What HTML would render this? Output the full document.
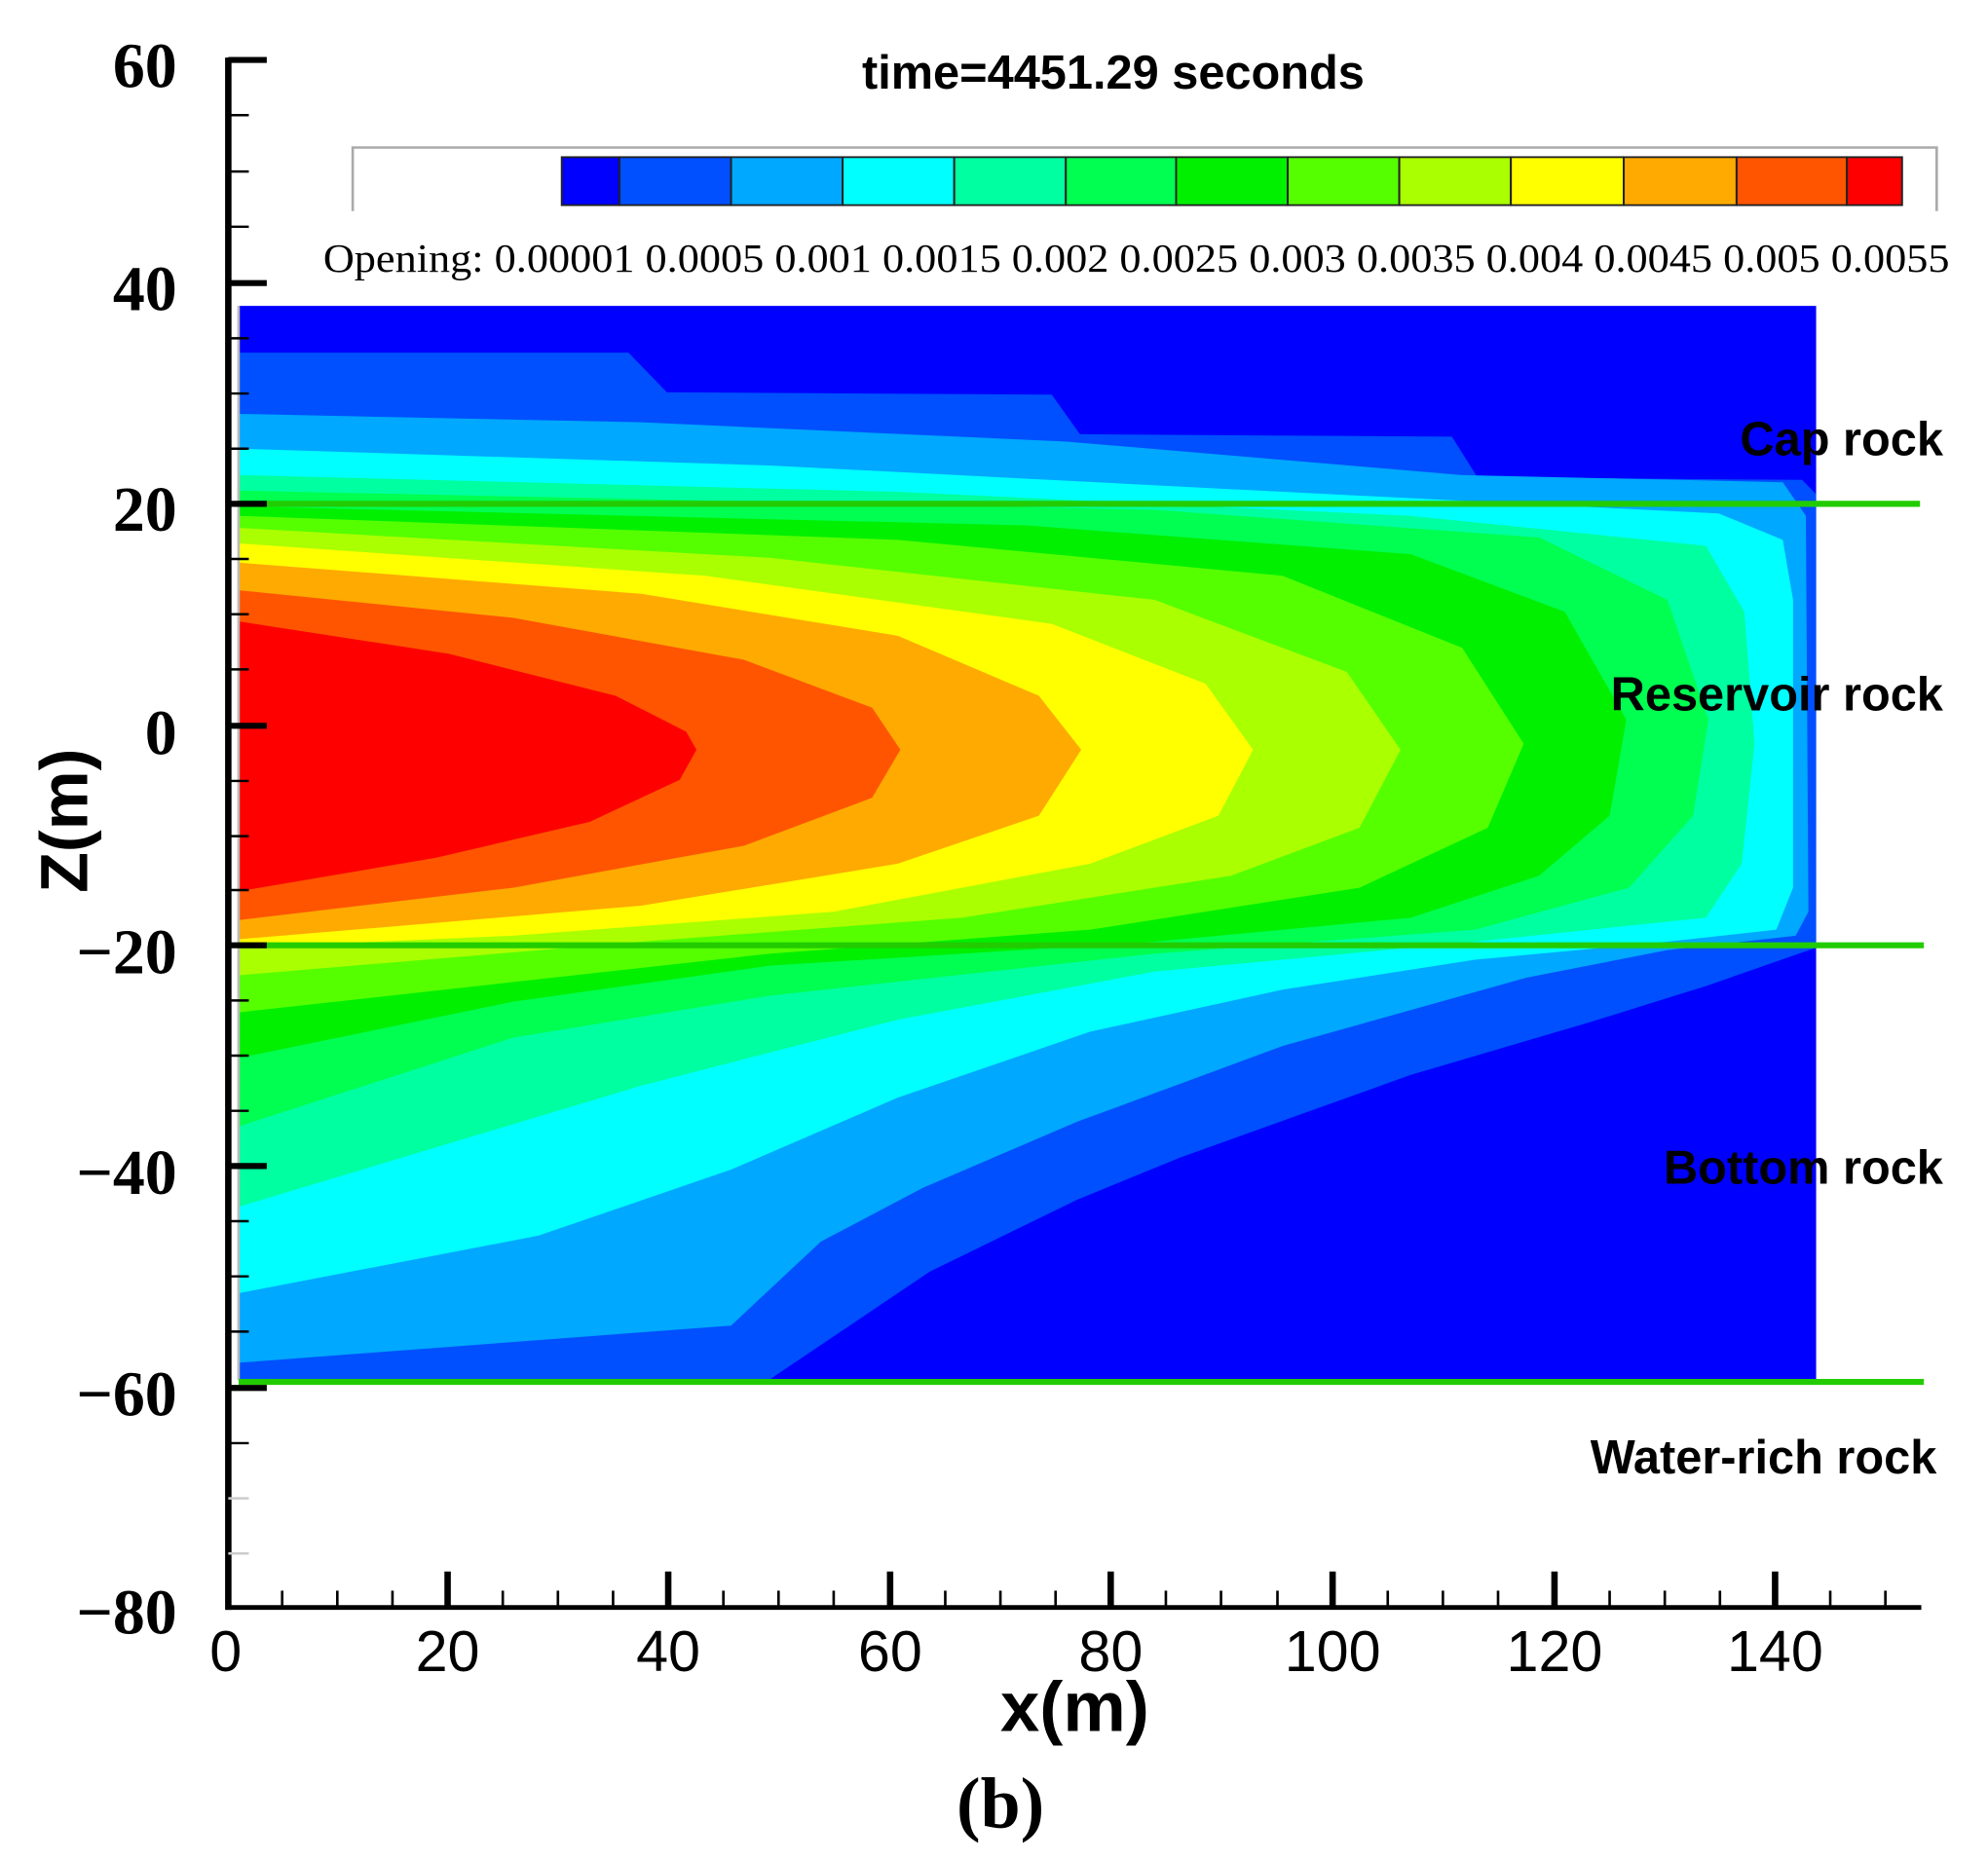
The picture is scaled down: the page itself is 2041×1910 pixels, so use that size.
<!DOCTYPE html>
<html><head><meta charset="utf-8"><style>
html,body{margin:0;padding:0;background:#fff;}
svg{display:block;}
</style></head><body>
<svg width="2041" height="1910" viewBox="0 0 1550 1450.5" preserveAspectRatio="none" xmlns="http://www.w3.org/2000/svg">
<rect x="0" y="0" width="1550" height="1451" fill="#fff"/>
<g transform="scale(1,0.9355)">
<rect x="186" y="255" width="1230" height="895" fill="#0000ff"/>
<path fill="#0050ff" d="M186,294 L490,294 L520,327 L820,329 L842,362 L1132,364 L1152,398 L1405,400 L1416,412 L1416,790 L1330,822 L1240,852 L1100,896 L920,965 L840,1000 L725,1060 L600,1150 L186,1150 Z"/>
<path fill="#00a8ff" d="M186,345 L500,352 L830,368 L1140,396 L1390,402 L1408,430 L1410,760 L1400,780 L1300,792 L1190,815 L1000,872 L840,935 L720,990 L640,1035 L570,1105 L186,1136 Z"/>
<path fill="#00ffff" d="M186,374 L600,388 L1000,410 L1340,428 L1390,450 L1398,500 L1398,740 L1385,775 L1300,785 L1150,800 L1000,825 L850,860 L700,915 L570,975 L420,1030 L186,1078 Z"/>
<path fill="#00ffa0" d="M186,396 L700,410 L1100,430 L1330,455 L1360,510 L1368,620 L1358,720 L1330,765 L1150,785 L900,810 L700,850 L500,905 L186,1006 Z"/>
<path fill="#00ff50" d="M186,409 L900,425 L1200,448 L1300,500 L1332,600 L1320,680 L1270,740 L1150,775 L900,795 L600,830 L400,865 L186,939 Z"/>
<path fill="#00f000" d="M186,422 L800,438 L1100,462 L1220,510 L1268,600 L1255,680 L1200,730 L1100,765 L900,785 L600,805 L400,835 L186,882 Z"/>
<path fill="#55ff00" d="M186,430 L700,450 L1000,480 L1140,540 L1188,620 L1160,690 L1060,740 L850,775 L600,795 L186,844 Z"/>
<path fill="#aaff00" d="M186,440 L600,465 L900,500 L1050,560 L1092,625 L1060,690 L960,730 L750,765 L500,785 L186,813 Z"/>
<path fill="#ffff00" d="M186,453 L550,480 L820,520 L940,570 L977,625 L950,680 L850,720 L650,760 L400,780 L186,790 Z"/>
<path fill="#ffaa00" d="M186,469 L500,495 L700,530 L810,580 L843,625 L810,680 L700,720 L500,755 L186,783 Z"/>
<path fill="#ff5500" d="M186,492 L400,515 L580,550 L680,590 L702,625 L680,665 L580,705 L400,740 L186,767 Z"/>
<path fill="#ff0000" d="M186,518 L350,545 L480,580 L535,610 L543,625 L530,650 L460,685 L340,715 L186,743 Z"/>
<line x1="186" y1="255" x2="186" y2="1150" stroke="#bbb" stroke-width="2"/>
<line x1="186" y1="420" x2="1497" y2="420" stroke="#22cc00" stroke-width="5"/>
<line x1="186" y1="788" x2="1500" y2="788" stroke="#22cc00" stroke-width="5"/>
<line x1="186" y1="1152" x2="1500" y2="1152" stroke="#22cc00" stroke-width="5"/>
<g stroke="#000">
<line x1="178" y1="48" x2="178" y2="1342" stroke-width="5"/>
<line x1="176" y1="1340" x2="1498" y2="1340" stroke-width="4"/>
<g stroke-width="5">
<line x1="178" y1="50" x2="208" y2="50"/><line x1="178" y1="236" x2="208" y2="236"/><line x1="178" y1="420" x2="208" y2="420"/><line x1="178" y1="605" x2="208" y2="605"/><line x1="178" y1="788" x2="208" y2="788"/><line x1="178" y1="972" x2="208" y2="972"/><line x1="178" y1="1157" x2="208" y2="1157"/>
</g>
<g stroke-width="2">
<line x1="178" y1="96" x2="194" y2="96"/><line x1="178" y1="143" x2="194" y2="143"/><line x1="178" y1="189" x2="194" y2="189"/>
<line x1="178" y1="282" x2="194" y2="282"/><line x1="178" y1="328" x2="194" y2="328"/><line x1="178" y1="374" x2="194" y2="374"/>
<line x1="178" y1="466" x2="194" y2="466"/><line x1="178" y1="512" x2="194" y2="512"/><line x1="178" y1="558" x2="194" y2="558"/>
<line x1="178" y1="651" x2="194" y2="651"/><line x1="178" y1="697" x2="194" y2="697"/><line x1="178" y1="742" x2="194" y2="742"/>
<line x1="178" y1="834" x2="194" y2="834"/><line x1="178" y1="880" x2="194" y2="880"/><line x1="178" y1="926" x2="194" y2="926"/>
<line x1="178" y1="1018" x2="194" y2="1018"/><line x1="178" y1="1064" x2="194" y2="1064"/><line x1="178" y1="1110" x2="194" y2="1110"/>
<line x1="178" y1="1203" x2="194" y2="1203"/><line x1="178" y1="1249" x2="194" y2="1249" stroke="#ccc"/><line x1="178" y1="1295" x2="194" y2="1295" stroke="#ccc"/>
</g>
<g stroke-width="5">
<line x1="349" y1="1310" x2="349" y2="1340"/><line x1="521" y1="1310" x2="521" y2="1340"/><line x1="694" y1="1310" x2="694" y2="1340"/><line x1="866" y1="1310" x2="866" y2="1340"/><line x1="1039" y1="1310" x2="1039" y2="1340"/><line x1="1212" y1="1310" x2="1212" y2="1340"/><line x1="1384" y1="1310" x2="1384" y2="1340"/>
</g>
<g stroke-width="2">
<line x1="220" y1="1326" x2="220" y2="1340"/><line x1="263" y1="1326" x2="263" y2="1340"/><line x1="306" y1="1326" x2="306" y2="1340"/>
<line x1="392" y1="1326" x2="392" y2="1340"/><line x1="435" y1="1326" x2="435" y2="1340"/><line x1="478" y1="1326" x2="478" y2="1340"/>
<line x1="564" y1="1326" x2="564" y2="1340"/><line x1="607" y1="1326" x2="607" y2="1340"/><line x1="650" y1="1326" x2="650" y2="1340"/>
<line x1="737" y1="1326" x2="737" y2="1340"/><line x1="780" y1="1326" x2="780" y2="1340"/><line x1="823" y1="1326" x2="823" y2="1340"/>
<line x1="909" y1="1326" x2="909" y2="1340"/><line x1="952" y1="1326" x2="952" y2="1340"/><line x1="996" y1="1326" x2="996" y2="1340"/>
<line x1="1082" y1="1326" x2="1082" y2="1340"/><line x1="1125" y1="1326" x2="1125" y2="1340"/><line x1="1168" y1="1326" x2="1168" y2="1340"/>
<line x1="1255" y1="1326" x2="1255" y2="1340"/><line x1="1298" y1="1326" x2="1298" y2="1340"/><line x1="1341" y1="1326" x2="1341" y2="1340"/>
<line x1="1427" y1="1326" x2="1427" y2="1340"/><line x1="1470" y1="1326" x2="1470" y2="1340"/>
</g>
</g>
<path d="M275,176 L275,123 L1510,123 L1510,176" fill="none" stroke="#aaa" stroke-width="2"/>
<g stroke="#222" stroke-width="1.5">
<rect x="438" y="131" width="45" height="40" fill="#0000ff"/>
<rect x="483" y="131" width="87" height="40" fill="#0050ff"/>
<rect x="570" y="131" width="87" height="40" fill="#00a8ff"/>
<rect x="657" y="131" width="87" height="40" fill="#00ffff"/>
<rect x="744" y="131" width="87" height="40" fill="#00ffa0"/>
<rect x="831" y="131" width="86" height="40" fill="#00ff50"/>
<rect x="917" y="131" width="87" height="40" fill="#00f000"/>
<rect x="1004" y="131" width="87" height="40" fill="#55ff00"/>
<rect x="1091" y="131" width="87" height="40" fill="#aaff00"/>
<rect x="1178" y="131" width="88" height="40" fill="#ffff00"/>
<rect x="1266" y="131" width="88" height="40" fill="#ffaa00"/>
<rect x="1354" y="131" width="86" height="40" fill="#ff5500"/>
<rect x="1440" y="131" width="43" height="40" fill="#ff0000"/>
</g>
</g>
<g font-family="Liberation Serif, serif" font-weight="bold" font-size="50" text-anchor="end" fill="#000">
<text x="138" y="68">60</text><text x="138" y="242">40</text><text x="138" y="414">20</text><text x="138" y="588">0</text>
<text x="138" y="759">−20</text><text x="138" y="931">−40</text><text x="138" y="1104">−60</text><text x="138" y="1274">−80</text>
</g>
<g font-family="Liberation Sans, sans-serif" font-size="45" text-anchor="middle" fill="#000">
<text x="176" y="1303">0</text><text x="349" y="1303">20</text><text x="521" y="1303">40</text><text x="694" y="1303">60</text>
<text x="866" y="1303">80</text><text x="1039" y="1303">100</text><text x="1212" y="1303">120</text><text x="1384" y="1303">140</text>
</g>
<text x="838" y="1350" font-family="Liberation Sans, sans-serif" font-weight="bold" font-size="55" text-anchor="middle">x(m)</text>
<text transform="translate(68,640) rotate(-90)" font-family="Liberation Sans, sans-serif" font-weight="bold" font-size="52" text-anchor="middle">Z(m)</text>
<text x="780" y="1425" font-family="Liberation Serif, serif" font-weight="bold" font-size="56" text-anchor="middle">(b)</text>
<text x="868" y="69" font-family="Liberation Sans, sans-serif" font-weight="bold" font-size="37" text-anchor="middle">time=4451.29 seconds</text>
<text x="252" y="212" font-family="Liberation Serif, serif" font-size="31" textLength="1268" lengthAdjust="spacingAndGlyphs">Opening: 0.00001  0.0005  0.001 0.0015 0.002 0.0025 0.003 0.0035 0.004 0.0045 0.005  0.0055</text>
<g font-family="Liberation Sans, sans-serif" font-weight="bold" font-size="37" text-anchor="end" fill="#000">
<text x="1515" y="355">Cap rock</text>
<text x="1515" y="554">Reservoir rock</text>
<text x="1515" y="923">Bottom rock</text>
<text x="1510" y="1149">Water-rich rock</text>
</g>
</svg>
</body></html>
